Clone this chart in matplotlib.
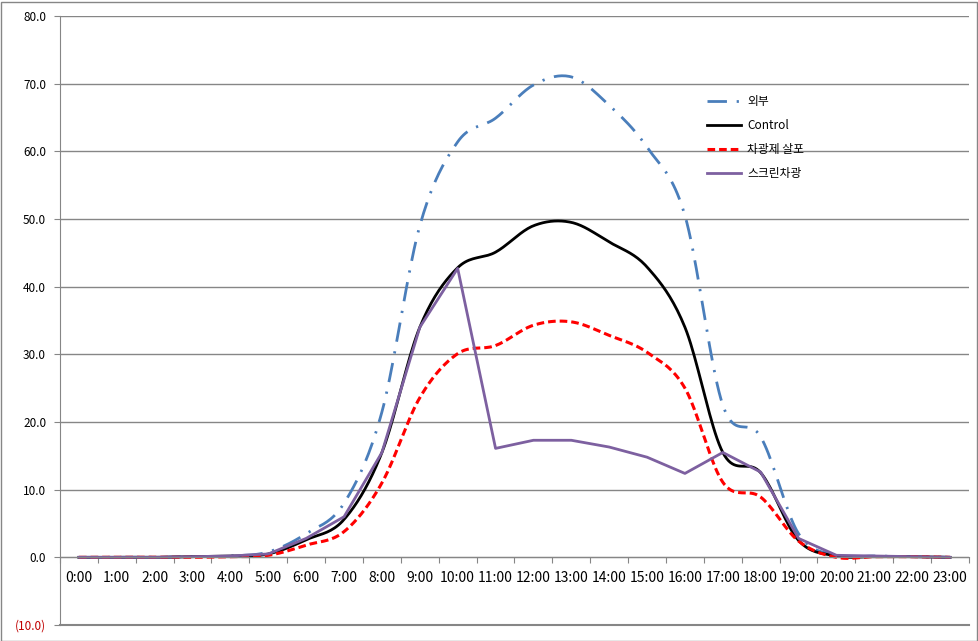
import matplotlib
matplotlib.use("Agg")
import matplotlib.pyplot as plt
import numpy as np
from matplotlib.patches import Rectangle

plt.rcParams['font.family'] = ['Noto Sans CJK KR', 'DejaVu Sans']

# Data
hours = ['%d:00' % h for h in range(24)]
outside = [0.0, 0.0, 0.0, 0.1, 0.2, 0.8, 3.5, 8.0, 21.5, 49.0, 61.4, 64.9,
           69.8, 71.0, 66.8, 60.6, 50.5, 22.5, 17.8, 3.5, 0.3, 0.2, 0.1, 0.0]
control = [0.0, 0.0, 0.0, 0.1, 0.2, 0.5, 2.6, 5.6, 15.5, 34.0, 42.8, 45.1,
           49.0, 49.5, 46.6, 42.9, 34.0, 15.5, 12.5, 2.5, 0.2, 0.1, 0.1, 0.0]
shade_agent = [0.0, 0.0, 0.0, 0.0, 0.1, 0.3, 1.8, 3.8, 11.0, 23.6, 30.1, 31.3,
               34.3, 34.8, 32.8, 30.3, 25.0, 11.1, 8.9, 2.4, 0.0, 0.1, 0.1, 0.0]
screen = [0.0, 0.0, 0.0, 0.1, 0.2, 0.5, 2.8, 6.0, 15.5, 34.0, 42.7, 16.1,
          17.3, 17.3, 16.3, 14.8, 12.4, 15.5, 12.6, 2.8, 0.3, 0.2, 0.1, 0.0]


def smooth(y, n=20):
    # Excel-style smoothed line (Catmull-Rom Bezier)
    y = np.asarray(y, float)
    x = np.arange(len(y), dtype=float)
    xs, ys = [], []
    for i in range(len(y) - 1):
        p0 = y[i - 1] if i > 0 else y[i]
        p3 = y[i + 2] if i + 2 < len(y) else y[i + 1]
        c1 = y[i] + (y[i + 1] - p0) / 6
        c2 = y[i + 1] - (p3 - y[i]) / 6
        t = np.linspace(0, 1, n, endpoint=False)
        ys.append((1 - t) ** 3 * y[i] + 3 * (1 - t) ** 2 * t * c1
                  + 3 * (1 - t) * t ** 2 * c2 + t ** 3 * y[i + 1])
        xs.append(x[i] + t)
    xs.append([x[-1]])
    ys.append([y[-1]])
    return np.concatenate(xs), np.concatenate(ys)


fig = plt.figure(figsize=(9.79, 6.41), dpi=100)
ax = fig.add_axes([60 / 979, 16 / 641, 909 / 979, 609 / 641])

x, y = smooth(outside)
ax.plot(x, y, color='#4a7ebb', lw=2.0, linestyle=(0, (7, 3.5, 0.8, 3.5)), label='외부')
x, y = smooth(control)
ax.plot(x, y, color='black', lw=2.0, label='Control')
x, y = smooth(shade_agent)
ax.plot(x, y, color='#ff0000', lw=2.2, linestyle=(0, (2.5, 1.3)), label='차광제 살포')
ax.plot(np.arange(len(screen)), screen, color='#7d60a0', lw=2.0, label='스크린차광')

ax.set_xlim(-0.5, 23.5)
ax.set_ylim(-10, 80)
yt = np.arange(-10, 81, 10)
ax.set_yticks(yt)
ax.set_yticklabels(['(%.1f)' % -v if v < 0 else '%.1f' % v for v in yt], fontsize=8.5)
ax.get_yticklabels()[0].set_color('#c00000')
ax.grid(axis='y', color='#868686', lw=1)
ax.axhline(-10, color='#868686', lw=1.5, clip_on=False)
ax.set_axisbelow(True)

ax.set_xticks(np.arange(-0.5, 24, 1))
ax.set_xticklabels([])
ax.set_xticks(np.arange(24), minor=True)
ax.set_xticklabels(hours, minor=True, fontsize=8.5)
ax.tick_params(axis='x', which='major', length=4, color='#868686', direction='out')
ax.tick_params(axis='x', which='minor', length=0, pad=10)
ax.tick_params(axis='y', length=4, color='#868686', pad=6)

ax.spines['bottom'].set_position(('data', 0))
ax.spines['bottom'].set_color('#868686')
ax.spines['left'].set_color('#868686')
ax.spines['top'].set_visible(False)
ax.spines['right'].set_visible(False)

ax.legend(loc='upper left', bbox_to_anchor=(0.7, 0.888), frameon=False,
          fontsize=8.5, handlelength=2.9, handletextpad=0.5, labelspacing=0.95)

fig.add_artist(Rectangle((0.5 / 979, 0.5 / 641), 977 / 979, 639 / 641,
                         transform=fig.transFigure, fill=False,
                         edgecolor='#868686', lw=1))

fig.savefig('out.png', dpi=100)
